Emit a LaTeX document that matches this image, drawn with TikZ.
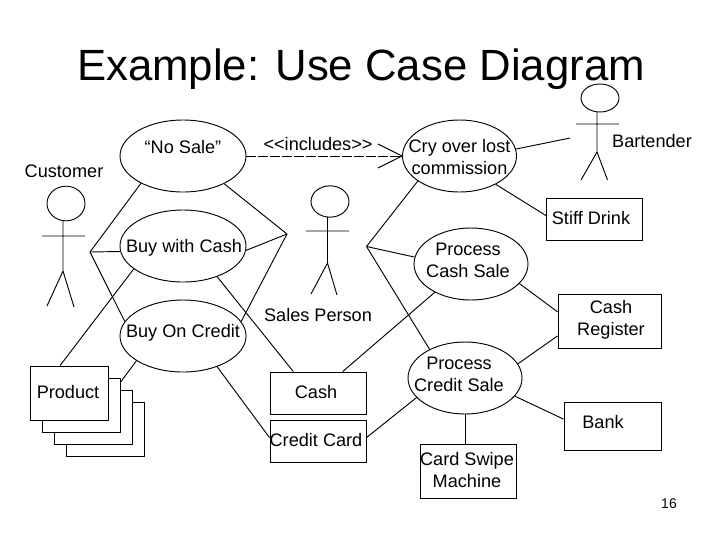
\documentclass[tikz,border=0pt]{standalone}
\usepackage{fontspec}
\setmainfont{Liberation Sans}
\usetikzlibrary{shapes.geometric}
\tikzset{
  ln/.style={line width=0.7pt,black},
  uc/.style={draw,ln,ellipse,inner sep=0pt,minimum width=#1*0.75pt,minimum height=54pt},
  uc/.default=126,
  box/.style={draw,ln,rectangle,inner sep=0pt,fill=white},
  txt/.style={inner sep=0pt,align=center,font=\fontsize{13.6}{16.5}\selectfont},
  head/.style={draw,ln,ellipse,inner sep=0pt}
}
\begin{document}
\begin{tikzpicture}[x=0.75pt,y=-0.75pt]
\useasboundingbox (0,0) rectangle (720,540);
\node[inner sep=0pt,font=\fontsize{32.8}{36}\selectfont] (title) at (361,69) {Example: Use Case Diagram};
% use cases
\node[uc] (nosale) at (183,156) {};
\node[uc] (buycash) at (183,246) {};
\node[uc] (buycredit) at (183,336) {};
\node[uc=114] (cry) at (459.5,156) {};
\node[uc=114] (pcash) at (471,264) {};
\node[uc=114] (pcredit) at (465,378) {};
% boxes
\node[box,minimum width=72pt,minimum height=31.5pt] (stiff) at (594.5,219) {};
\node[box,minimum width=77.25pt,minimum height=40.5pt] (register) at (609.5,321) {};
\node[box,minimum width=72.75pt,minimum height=36pt] (bank) at (612.5,426) {};
\node[box,minimum width=72pt,minimum height=40.5pt] (swipe) at (468,471) {};
\node[box,minimum width=72pt,minimum height=31.5pt] (cash) at (318,393) {};
\node[box,minimum width=72pt,minimum height=31.5pt] (credit) at (318,441) {};
\node[box,minimum width=58.5pt,minimum height=40.5pt] (prod4) at (105,429) {};
\node[box,minimum width=58.5pt,minimum height=40.5pt] (prod3) at (93,417) {};
\node[box,minimum width=58.5pt,minimum height=40.5pt] (prod2) at (81,405) {};
\node[box,minimum width=58.5pt,minimum height=40.5pt] (prod1) at (69,393) {};
% labels
\node[txt] (tnosale) at (183,147) {“No Sale”};
\node[txt] (tincl) at (318,144) {<{}<includes>{}>};
\node[txt] (tcust) at (64,171) {Customer};
\node[txt] (tbuycash) at (184,248) {Buy with Cash};
\node[txt] (tbuycredit) at (183,333) {Buy On Credit};
\node[txt] (tprod) at (68,392) {Product};
\node[txt] (tcash) at (316,392) {Cash};
\node[txt] (tcredit) at (316,440) {Credit Card};
\node[txt] (tsales) at (318,315) {Sales Person};
\node[txt] (tcry) at (459.5,157) {Cry over lost\\commission};
\node[txt] (tpcash) at (468,260) {Process\\Cash Sale};
\node[txt] (tpcredit) at (459,374) {Process\\Credit Sale};
\node[txt] (tstiff) at (591,218) {Stiff Drink};
\node[txt] (treg) at (611,320) {Cash\\Register};
\node[txt] (tbank) at (603,422) {Bank};
\node[txt] (tswipe) at (467,470) {Card Swipe\\Machine};
\node[txt] (tbar) at (652,141) {Bartender};
\node[inner sep=0pt,font=\fontsize{10.5}{12}\selectfont] (tpage) at (669,504) {16};
% actors
\node[head,minimum width=28.5pt,minimum height=26pt] (hcust) at (66,203.5) {};
\node[head,minimum width=28.5pt,minimum height=23.5pt] (hsales) at (330,201.5) {};
\node[head,minimum width=28.5pt,minimum height=21pt] (hbar) at (600,98) {};
\draw[ln] (63,221) -- (63,271) (42,236) -- (85,236) (47,306) -- (63,271) -- (74,307);
\draw[ln] (327.5,217) -- (327.5,263) (306,231) -- (349,231) (311,294) -- (327.5,263) -- (337,295);
\draw[ln] (597,112) -- (597,152) (576,124) -- (619,124) (581,180) -- (597,152) -- (607.5,180);
% junctions
\coordinate (jc) at (90,252);
\coordinate (js) at (287,234);
\coordinate (jp) at (366.5,246.5);
\coordinate (jb) at (570,138);
\coordinate (a1) at (378,144);
\coordinate (a2) at (378,168);
% connectors
\draw[ln] (jc) -- (nosale.213);
\draw[ln] (jc) -- (buycash.185.5);
\draw[ln] (jc) -- (buycredit.166);
\draw[ln] (prod1.108) -- (buycash.205);
\draw[ln] (prod2.30) -- (buycredit.208.5);
\draw[ln] (js) -- (nosale.326);
\draw[ln] (js) -- (buycash.356);
\draw[ln] (js) -- (buycredit.14);
\draw[ln] (buycash.318) -- (cash.139);
\draw[ln] (buycredit.318.6) -- (credit.176.5);
\draw[ln] (jp) -- (cry.211);
\draw[ln] (jp) -- (pcash.173);
\draw[ln] (jp) -- (pcredit.141.5);
\draw[ln] (pcash.218.5) -- (cash.41);
\draw[ln] (pcredit.202) -- (credit.4.7);
\draw[ln] (pcredit.340) -- (bank.172);
\draw[ln] (pcredit.15.5) -- (register.196);
\draw[ln] (pcash.338) -- (register.170);
\draw[ln] (pcredit.south) -- (swipe.north -| pcredit.south);
\draw[ln] (cry.7) -- (jb);
\draw[ln] (cry.322) -- (stiff.176.5);
\draw[ln,dash pattern=on 7pt off 2pt] (nosale.east) -- (cry.west);
\draw[ln] (a1) -- (cry.west) -- (a2);
\end{tikzpicture}
\end{document}
